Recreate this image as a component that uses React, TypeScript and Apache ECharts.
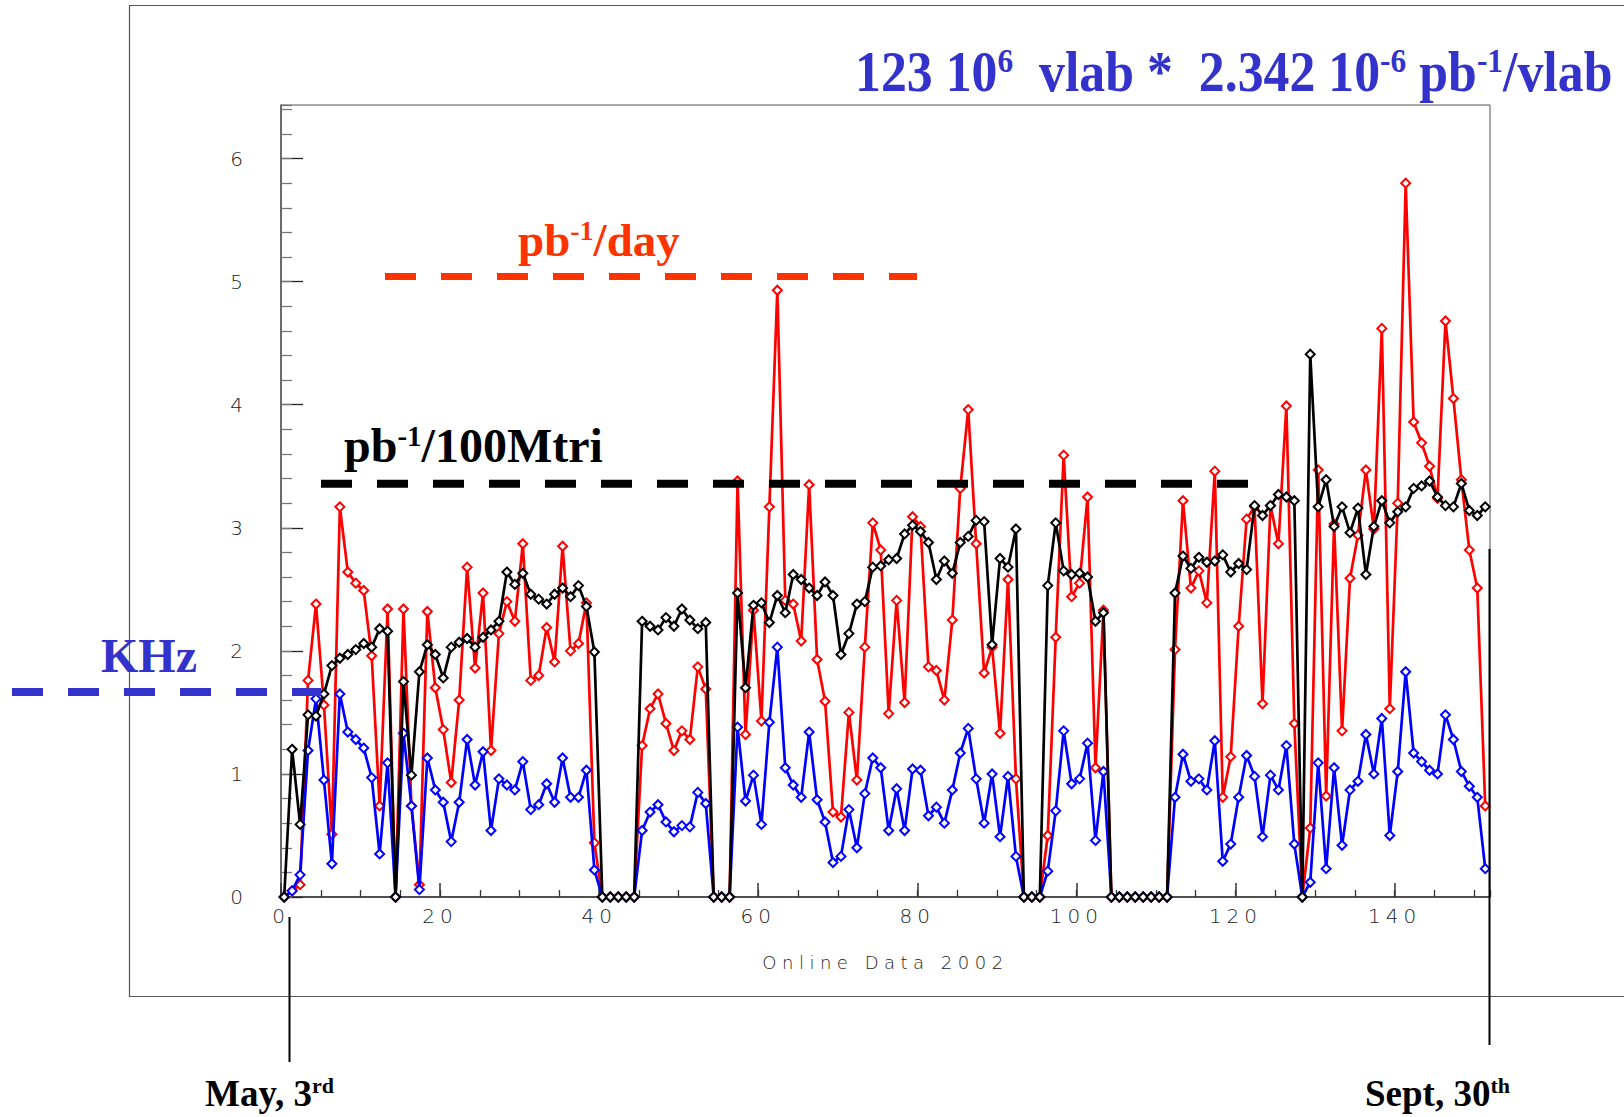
import React, { useEffect, useRef } from "react";
import * as echarts from "echarts";

// ---- data ----
// x position of each daily point = index + DAY_OFFSET (days since start of run)
const DAY_OFFSET = 0.4;
const X_MAX = 152;
const Y_MAX = 6.435;
const X_TICK_STEP = 20;
const X_MINOR_STEP = 5;
const Y_TICK_STEP = 1;
const Y_MINOR_STEP = 0.2;

// red: pb-1 / day
const lumiPerDay = [
  0, 0.05, 0.1, 1.76, 2.38, 1.56, 0.51, 3.17, 2.64, 2.55,
  2.49, 1.96, 0.74, 2.34, 0, 2.34, 0.74, 0.1, 2.32, 1.7,
  1.36, 0.93, 1.6, 2.68, 1.86, 2.47, 1.19, 2.14, 2.4, 2.24,
  2.87, 1.76, 1.8, 2.19, 1.91, 2.85, 2.0, 2.06, 2.39, 0.44,
  0, 0, 0, 0, 0, 1.23, 1.53, 1.65, 1.41, 1.19,
  1.35, 1.28, 1.87, 1.69, 0, 0, 0, 3.38, 1.32, 2.33,
  1.43, 3.17, 4.93, 2.41, 2.38, 2.08, 3.35, 1.93, 1.59, 0.69,
  0.65, 1.5, 0.95, 2.03, 3.04, 2.82, 1.49, 2.41, 1.58, 3.09,
  3.01, 1.87, 1.84, 1.6, 2.25, 3.32, 3.96, 2.87, 1.82, 2.03,
  1.33, 2.58, 0.96, 0, 0, 0, 0.5, 2.11, 3.59, 2.44,
  2.55, 3.25, 1.05, 2.33, 0, 0, 0, 0, 0, 0,
  0, 0, 2.01, 3.22, 2.51, 2.65, 2.39, 3.46, 0.81, 1.14,
  2.2, 3.07, 3.17, 1.57, 3.18, 2.87, 3.99, 1.41, 0, 0.56,
  3.47, 0.82, 3.03, 1.35, 2.59, 2.94, 3.47, 2.99, 4.62, 1.53,
  3.2, 5.8, 3.86, 3.69, 3.5, 3.24, 4.68, 4.05, 3.39, 2.82,
  2.51, 0.74,
];

// black: pb-1 / 100M triggers
const lumiPer100M = [
  0, 1.2, 0.59, 1.48, 1.47, 1.65, 1.88, 1.94, 1.97, 2.01,
  2.06, 2.03, 2.18, 2.16, 0, 1.75, 0.99, 1.83, 2.05, 1.97,
  1.78, 2.03, 2.07, 2.1, 2.03, 2.11, 2.17, 2.24, 2.64, 2.54,
  2.63, 2.46, 2.42, 2.38, 2.46, 2.51, 2.44, 2.53, 2.36, 1.99,
  0, 0, 0, 0, 0, 2.24, 2.2, 2.17, 2.27, 2.2,
  2.34, 2.25, 2.18, 2.23, 0, 0, 0, 2.47, 1.7, 2.37,
  2.39, 2.23, 2.45, 2.31, 2.62, 2.58, 2.51, 2.45, 2.56, 2.45,
  1.97, 2.14, 2.38, 2.4, 2.68, 2.69, 2.74, 2.75, 2.95, 3.02,
  2.97, 2.88, 2.58, 2.73, 2.63, 2.88, 2.93, 3.06, 3.05, 2.05,
  2.75, 2.68, 2.99, 0, 0, 0, 2.53, 3.04, 2.65, 2.62,
  2.63, 2.6, 2.24, 2.31, 0, 0, 0, 0, 0, 0,
  0, 0, 2.47, 2.77, 2.67, 2.76, 2.72, 2.73, 2.78, 2.64,
  2.71, 2.66, 3.18, 3.1, 3.18, 3.27, 3.25, 3.22, 0, 4.41,
  3.17, 3.39, 3.01, 3.17, 2.96, 3.16, 2.62, 3.01, 3.22, 3.04,
  3.13, 3.17, 3.32, 3.34, 3.38, 3.25, 3.18, 3.17, 3.36, 3.14,
  3.1, 3.17,
];

// blue: trigger rate, KHz
const rateKHz = [
  0, 0.05, 0.18, 1.19, 1.61, 0.95, 0.27, 1.65, 1.34, 1.28,
  1.21, 0.97, 0.35, 1.09, 0, 1.33, 0.74, 0.06, 1.13, 0.87,
  0.77, 0.45, 0.77, 1.28, 0.91, 1.18, 0.54, 0.96, 0.91, 0.87,
  1.1, 0.71, 0.75, 0.92, 0.77, 1.13, 0.81, 0.81, 1.03, 0.22,
  0, 0, 0, 0, 0, 0.54, 0.69, 0.75, 0.61, 0.53,
  0.58, 0.57, 0.85, 0.76, 0, 0, 0, 1.38, 0.78, 0.99,
  0.59, 1.42, 2.03, 1.05, 0.91, 0.81, 1.34, 0.79, 0.61, 0.28,
  0.33, 0.71, 0.4, 0.84, 1.13, 1.05, 0.54, 0.88, 0.54, 1.04,
  1.03, 0.66, 0.73, 0.6, 0.87, 1.17, 1.37, 0.96, 0.6, 1.0,
  0.49, 0.98, 0.33, 0, 0, 0, 0.21, 0.7, 1.35, 0.92,
  0.96, 1.25, 0.46, 1.02, 0, 0, 0, 0, 0, 0,
  0, 0, 0.81, 1.16, 0.94, 0.96, 0.87, 1.27, 0.29, 0.43,
  0.81, 1.15, 0.98, 0.49, 0.99, 0.87, 1.23, 0.43, 0, 0.12,
  1.09, 0.23, 1.05, 0.42, 0.87, 0.94, 1.32, 1.0, 1.45, 0.5,
  1.02, 1.83, 1.17, 1.1, 1.03, 1.0, 1.48, 1.28, 1.02, 0.9,
  0.81, 0.23,
];

const X_AXIS_NAME = "Online Data 2002";
const TITLE_RICH = "{n|123 10}{s|6}{n|  vlab *  2.342 10}{s|-6}{n| pb}{s|-1}{n|/vlab}";
const DAY_LABEL = "{n|pb}{s|-1}{n|/day}";
const TRI_LABEL = "{n|pb}{s|-1}{n|/100Mtri}";
const KHZ_LABEL = "KHz";
const START_LABEL = "{n|May, 3}{s|rd}";
const END_LABEL = "{n|Sept, 30}{s|th}";

const SERIF = "'Liberation Serif', 'Times New Roman', serif";
const SANS = "'DejaVu Sans', sans-serif";
const BLUE_TXT = "#3333cc";
const ORANGE_TXT = "#ff3300";

const toPoints = (arr: number[]) => arr.map((v, i) => [i + DAY_OFFSET, v]);

function richStyle(size: number, color: string) {
  return {
    n: { fontFamily: SERIF, fontWeight: "bold", fontSize: size, fill: color },
    s: {
      fontFamily: SERIF,
      fontWeight: "bold",
      fontSize: Math.round(size * 0.6),
      fill: color,
      verticalAlign: "top",
    },
  };
}

function richText(x: number, y: number, text: string, size: number, color: string, scaleX = 1) {
  return {
    type: "text",
    x,
    y,
    scaleX,
    z: 100,
    silent: true,
    style: {
      text,
      rich: richStyle(size, color),
      fontFamily: SERIF,
      fontWeight: "bold",
      fontSize: size,
      fill: color,
      align: "left",
      verticalAlign: "middle",
    },
  };
}

function dashed(x1: number, x2: number, y: number, color: string, w: number) {
  return {
    type: "line",
    z: 100,
    silent: true,
    shape: { x1, y1: y, x2, y2: y },
    style: { stroke: color, lineWidth: w, lineDash: [31, 25] },
  };
}

function vline(x: number, y1: number, y2: number) {
  return {
    type: "line",
    z: 100,
    silent: true,
    shape: { x1: x, y1, x2: x, y2 },
    style: { stroke: "#000", lineWidth: 2 },
  };
}

function lineSeries(name: string, data: number[], color: string, z: number) {
  return {
    type: "line",
    name,
    data: toPoints(data),
    xAxisIndex: 0,
    yAxisIndex: 0,
    symbol: "emptyDiamond",
    symbolSize: 9,
    showAllSymbol: true,
    z,
    lineStyle: { color, width: 2.7 },
    itemStyle: { color, borderColor: color, borderWidth: 2 },
    emphasis: { disabled: true },
  };
}

export default function App() {
  const ref = useRef<HTMLDivElement>(null);

  useEffect(() => {
    if (!ref.current) return;
    const chart = echarts.init(ref.current, undefined, { renderer: "svg" });

    const labelStyle = { fontFamily: SANS, fontSize: 20, color: "#222", fontWeight: 300 };

    const option: any = {
      animation: false,
      backgroundColor: "#fff",
      grid: {
        left: 281,
        right: 134,
        top: 105,
        bottom: 220,
        show: true,
        borderColor: "#555",
        borderWidth: 1,
        backgroundColor: "transparent",
      },
      xAxis: [
        {
          type: "value",
          min: 0,
          max: X_MAX,
          interval: X_TICK_STEP,
          name: X_AXIS_NAME,
          nameLocation: "middle",
          nameGap: 56,
          nameTextStyle: { fontFamily: SANS, fontSize: 18, color: "#222", fontWeight: 300 },
          axisLine: { show: true, lineStyle: { color: "#333", width: 1.5 } },
          axisTick: { show: true, inside: true, length: 14, lineStyle: { color: "#333", width: 1.5 } },
          axisLabel: { ...labelStyle, margin: 9, showMaxLabel: false },
          splitLine: { show: false },
        },
        {
          type: "value",
          min: 0,
          max: X_MAX,
          interval: X_MINOR_STEP,
          position: "bottom",
          axisLine: { show: false },
          axisTick: { show: true, inside: true, length: 7, lineStyle: { color: "#333", width: 1.3 } },
          axisLabel: { show: false },
          splitLine: { show: false },
        },
      ],
      yAxis: [
        {
          type: "value",
          min: 0,
          max: Y_MAX,
          interval: Y_TICK_STEP,
          axisLine: { show: true, lineStyle: { color: "#555", width: 1.5 } },
          axisTick: { show: true, inside: true, length: 22, lineStyle: { color: "#222", width: 1.3 } },
          axisLabel: { ...labelStyle, margin: 33, showMaxLabel: false },
          splitLine: { show: false },
        },
        {
          type: "value",
          min: 0,
          max: Y_MAX,
          interval: Y_MINOR_STEP,
          position: "left",
          axisLine: { show: false },
          axisTick: { show: true, inside: true, length: 11, lineStyle: { color: "#777", width: 1.3 } },
          axisLabel: { show: false },
          splitLine: { show: false },
        },
      ],
      series: [
        lineSeries("pb-1/day", lumiPerDay, "#ff0000", 2),
        lineSeries("KHz", rateKHz, "#0000ff", 3),
        lineSeries("pb-1/100Mtri", lumiPer100M, "#000000", 4),
      ],
      graphic: [
        {
          type: "rect",
          z: 90,
          silent: true,
          shape: { x: 129.5, y: 5.5, width: 1600, height: 991 },
          style: { fill: "none", stroke: "#555", lineWidth: 1.2 },
        },
        richText(855, 72, TITLE_RICH, 56, BLUE_TXT, 0.925),
        richText(518, 240, DAY_LABEL, 47, ORANGE_TXT),
        dashed(385, 917, 276.5, ORANGE_TXT, 7),
        richText(344, 445, TRI_LABEL, 48, "#000"),
        dashed(321, 1253, 483.7, "#000", 8),
        richText(101, 655, KHZ_LABEL, 48, BLUE_TXT),
        dashed(12, 321, 692, BLUE_TXT, 8),
        vline(289.5, 917, 1062),
        vline(1489.5, 549, 1045),
        richText(205, 1093, START_LABEL, 37, "#000"),
        richText(1365, 1093, END_LABEL, 37, "#000"),
      ],
    };

    chart.setOption(option);

    const applySpacing = () => {
      const root = ref.current;
      if (!root) return;
      root.querySelectorAll("text").forEach((t) => {
        const ff = window.getComputedStyle(t).fontFamily || "";
        if (!ff.includes("DejaVu")) return;
        const txt = (t.textContent || "").trim();
        t.setAttribute("letter-spacing", txt === X_AXIS_NAME ? "5.5" : "5");
      });
    };
    chart.on("finished", applySpacing);
    const timer = window.setTimeout(applySpacing, 50);
    applySpacing();

    return () => {
      window.clearTimeout(timer);
      chart.dispose();
    };
  }, []);

  return (
    <div
      ref={ref}
      style={{ position: "fixed", left: 0, top: 0, width: 1624, height: 1117, background: "#fff" }}
    />
  );
}
